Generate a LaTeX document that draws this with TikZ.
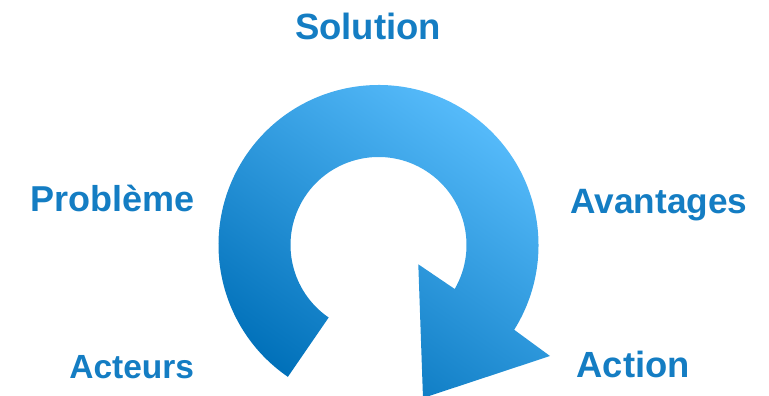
\documentclass[tikz,border=0pt]{standalone}
\usepackage{fontspec}
\setmainfont{Liberation Sans}
\usetikzlibrary{calc}
\definecolor{txtblue}{RGB}{20,125,195}
\definecolor{arrdark}{RGB}{0,112,185}
\definecolor{arrlight}{RGB}{92,192,255}
\tikzset{
  lbl/.style={anchor=base, inner sep=0pt, text=txtblue, font=\bfseries\fontsize{#1}{#1}\selectfont},
}
\begin{document}
\begin{tikzpicture}[x=1pt,y=1pt]
\useasboundingbox (0,0) rectangle (769,396);
\clip (0,0) rectangle (769,396);
\coordinate (C) at (378.5,151);
\coordinate (tailout) at ($(C)+(235.5:160)$);
\coordinate (headin) at ($(C)+(-30:88)$);
\coordinate (barbout) at (550,40);
\coordinate (tip) at (423,-2);
\coordinate (barbin) at (418.3,131.7);
\shade[top color=arrlight, bottom color=arrdark, shading angle=-35]
  (tailout) arc[start angle=235.5, end angle=-32, radius=160]
  -- (barbout) -- (tip) -- (barbin) -- (headin)
  arc[start angle=-30, end angle=235.5, radius=88] -- cycle;
\node[lbl=36.5] (solution) at (368,356.7) {Solution};
\node[lbl=36] (probleme) at (112.5,184.3) {Problème};
\node[lbl=35.2] (avantages) at (659,182.7) {Avantages};
\node[lbl=33.5] (acteurs) at (131.7,17.7) {Acteurs};
\node[lbl=36.4] (action) at (633.3,18) {Action};
\end{tikzpicture}
\end{document}
